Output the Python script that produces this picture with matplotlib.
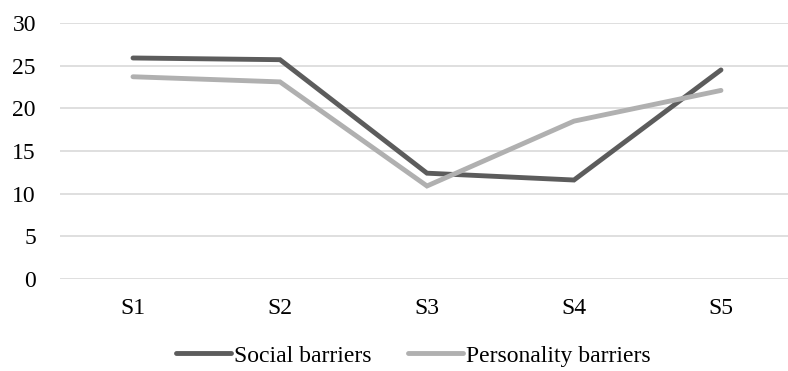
import matplotlib
matplotlib.use("Agg")
import matplotlib.pyplot as plt
from matplotlib.lines import Line2D

plt.rcParams['font.family'] = ['Liberation Serif', 'DejaVu Serif']

# series values per stage
stages = ['S1', 'S2', 'S3', 'S4', 'S5']
social = [25.9, 25.7, 12.4, 11.6, 24.5]
personality = [23.7, 23.1, 10.9, 18.5, 22.1]
yticks = [0, 5, 10, 15, 20, 25, 30]

dark = '#5c5c5c'
light = '#b0b0b0'
lw = 3.5
fs = 17

fig = plt.figure(figsize=(7.88, 3.71), dpi=100)
ax = fig.add_axes([59.5 / 788, 1 - 279 / 371, 1 - 59.5 / 788, 256 / 371])

x = range(len(stages))
ax.plot(x, social, color=dark, linewidth=lw, solid_capstyle='round', solid_joinstyle='miter', zorder=3)
ax.plot(x, personality, color=light, linewidth=lw, solid_capstyle='round', solid_joinstyle='miter', zorder=3)

ax.set_xlim(-0.5, 4.456)
ax.set_ylim(0, 30)
ax.set_yticks(yticks)
ax.set_xticks(list(x))
ax.set_xticklabels(stages)
ax.yaxis.grid(True, color='#d9d9d9', linewidth=1.2)
ax.set_axisbelow(True)
for s in ax.spines.values():
    s.set_visible(False)
ax.tick_params(axis='both', length=0, labelsize=fs, labelcolor='#000000')
ax.tick_params(axis='y', pad=17)
ax.tick_params(axis='x', pad=14)

handles = [Line2D([], [], color=dark, linewidth=lw, solid_capstyle='round'),
           Line2D([], [], color=light, linewidth=lw, solid_capstyle='round')]
fig.legend(handles, ['Social barriers', 'Personality barriers'], loc='center',
           bbox_to_anchor=(413 / 788, 1 - 356 / 371), ncol=2, frameon=False,
           fontsize=fs, handlelength=2.35, handletextpad=0.1, columnspacing=1.55)

fig.savefig('out.png', dpi=100)
